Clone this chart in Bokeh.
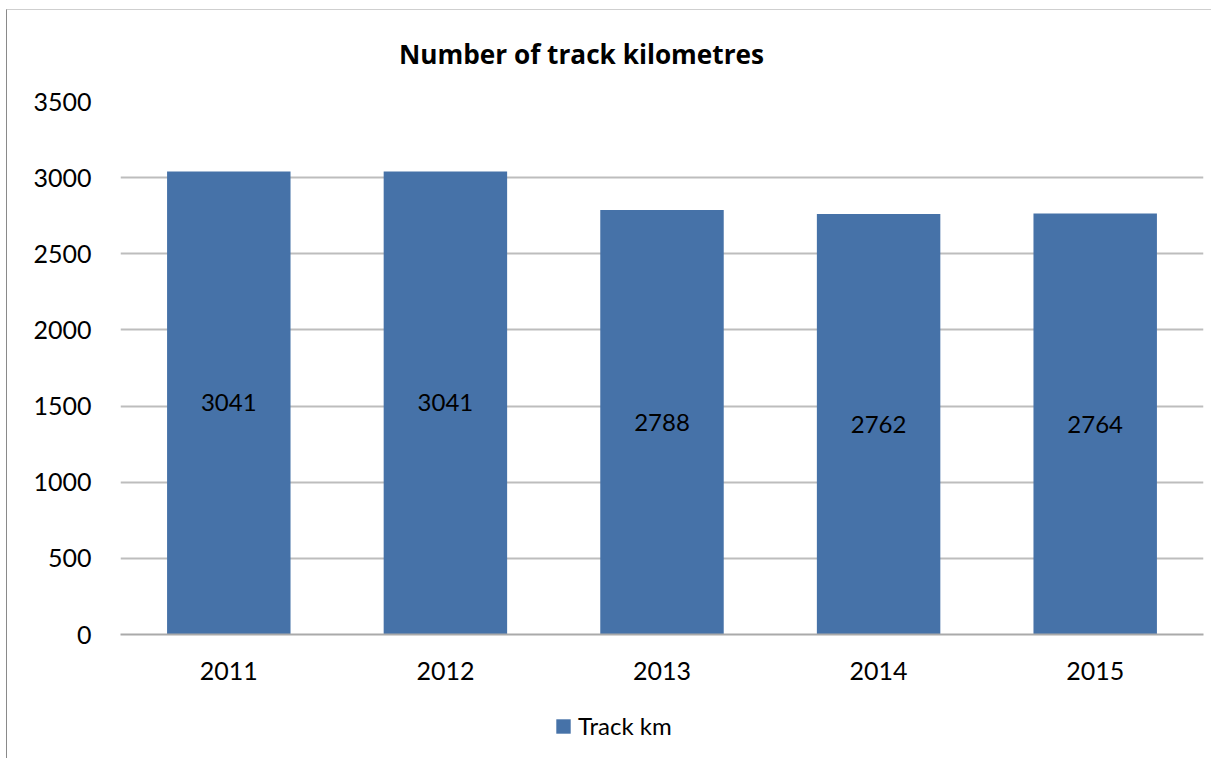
from bokeh.plotting import figure
from bokeh.layouts import column
from bokeh.models import FactorRange, Range1d, Label, Legend, LegendItem, ColumnDataSource, LabelSet
from bokeh.embed import file_html
from bokeh.resources import INLINE
from bokeh.core.properties import value

years = ["2011", "2012", "2013", "2014", "2015"]
track_km = [3041, 3041, 2788, 2762, 2764]
series_name = "Track km"
title_text = "Number of track kilometres"

FONT = "Lato"
BAR = "#4672A8"

src = ColumnDataSource(dict(
    x=years, top=track_km,
    mid=[v / 2 for v in track_km],
    lbl=[str(v) for v in track_km],
))


def strip(h):
    f = figure(width=1204, height=h, x_range=Range1d(0, 1083), y_range=Range1d(0, h),
               output_backend="svg", toolbar_location=None,
               x_axis_location=None, y_axis_location=None,
               min_border_left=0, min_border_right=0, min_border_top=0, min_border_bottom=0)
    f.outline_line_color = None
    f.grid.visible = False
    return f


# title strip
p0 = strip(77)
p0.add_layout(Label(x=461, y=34, text=title_text, text_align="center", text_baseline="middle",
                    text_font="Open Sans", text_font_style="bold", text_font_size="26.2px",
                    text_color="black"))

p = figure(
    width=1204, height=623,
    x_range=FactorRange(factors=years, range_padding=0),
    y_range=Range1d(0, 3500),
    output_backend="svg", toolbar_location=None,
    min_border_left=113, min_border_right=8, min_border_top=14, min_border_bottom=76,
)
p.outline_line_color = None
p.background_fill_color = "white"
p.border_fill_color = "white"

r = p.vbar(x="x", top="top", width=0.57, source=src, fill_color=BAR, line_color=None)

labels = LabelSet(x="x", y="mid", text="lbl", source=src, text_align="center",
                  text_baseline="middle", text_font=value(FONT), text_font_size="24px",
                  text_color="black")
p.add_layout(labels)

p.xgrid.grid_line_color = None
p.ygrid.grid_line_color = "#bdbdbd"
p.ygrid.grid_line_width = 2
p.yaxis.ticker = [0, 500, 1000, 1500, 2000, 2500, 3000, 3500]

for ax in (p.xaxis, p.yaxis):
    ax.major_tick_line_color = None
    ax.minor_tick_line_color = None
    ax.major_label_text_font = FONT
    ax.major_label_text_font_size = "25px"
    ax.major_label_text_color = "black"
p.yaxis.axis_line_color = None
p.xaxis.axis_line_color = "#aaaaaa"
p.xaxis.axis_line_width = 2
p.yaxis.major_label_standoff = 29
p.xaxis.major_label_standoff = 27
p.xaxis.major_tick_out = 0
p.yaxis.major_tick_out = 0

# legend strip below the chart
p2 = strip(48)
proxy = p2.vbar(x=[-50], top=[0], width=1, fill_color=BAR, line_color=None)
legend = Legend(items=[LegendItem(label=series_name, renderers=[proxy])], location=(434, 18),
                orientation="horizontal", margin=0, padding=0, border_line_color=None,
                background_fill_alpha=0, glyph_width=18, glyph_height=18, label_standoff=6,
                label_text_font=FONT, label_text_font_size="24px", label_text_color="black")
p2.add_layout(legend, "center")

layout = column(p0, p, p2, spacing=0,
                styles={"margin-left": "6px", "margin-top": "9px",
                        "border-left": "1px solid #8a8a8a", "border-top": "1px solid #cfcfcf"})

open("out.html", "w").write(file_html(layout, INLINE))
